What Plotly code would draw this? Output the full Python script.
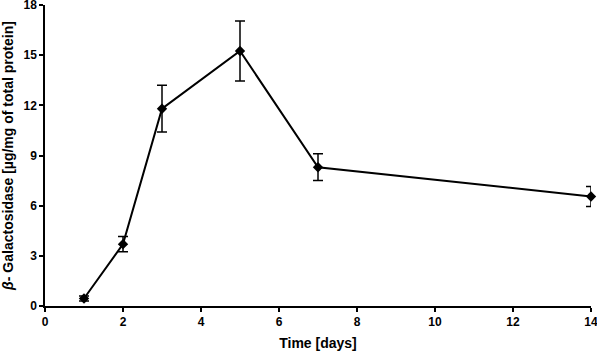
import plotly.graph_objects as go

days = [1, 2, 3, 5, 7, 14]
values = [0.45, 3.7, 11.8, 15.25, 8.3, 6.55]
errors = [0.15, 0.45, 1.4, 1.8, 0.8, 0.6]
x_ticks = [0, 2, 4, 6, 8, 10, 12, 14]
y_ticks = [0, 3, 6, 9, 12, 15, 18]

fig = go.Figure()
fig.add_trace(go.Scatter(
    x=days, y=values,
    mode="lines+markers",
    line=dict(color="black", width=2),
    marker=dict(symbol="diamond", size=8, color="black"),
    error_y=dict(type="data", array=errors, visible=True, color="black", thickness=1.5, width=5),
    cliponaxis=False,
    showlegend=False,
))

fam = "Liberation Sans, Arial, sans-serif"
fig.update_layout(
    width=597, height=355,
    margin=dict(l=45, r=6, t=5, b=49),
    plot_bgcolor="white", paper_bgcolor="white",
    font=dict(family=fam, size=11, color="black"),
    xaxis=dict(
        range=[0, 14], tickvals=x_ticks, ticks="outside", ticklen=4, tickwidth=1.5,
        tickcolor="black", showline=True, linecolor="black", linewidth=1.5,
        showgrid=False, zeroline=False, automargin=False, ticklabeloverflow="allow",
        tickfont=dict(family=fam, size=12, color="black", weight="bold"),
        title=dict(text="<b>Time [days]</b>", font=dict(family=fam, size=14), standoff=10),
    ),
    yaxis=dict(
        range=[0, 18], tickvals=y_ticks, ticks="outside", ticklen=4, tickwidth=1.5,
        tickcolor="black", showline=True, linecolor="black", linewidth=1.5,
        showgrid=False, zeroline=False, automargin=False, ticklabeloverflow="allow",
        tickfont=dict(family=fam, size=12, color="black", weight="bold"),
        title=dict(text="<b><i>β</i>- Galactosidase [µg/mg of total protein]</b>", font=dict(family=fam, size=14), standoff=8),
    ),
)
fig.write_html(
    "out.html",
    config={"displayModeBar": False},
    post_script="document.body.style.margin='0';document.body.style.overflow='hidden';",
)
